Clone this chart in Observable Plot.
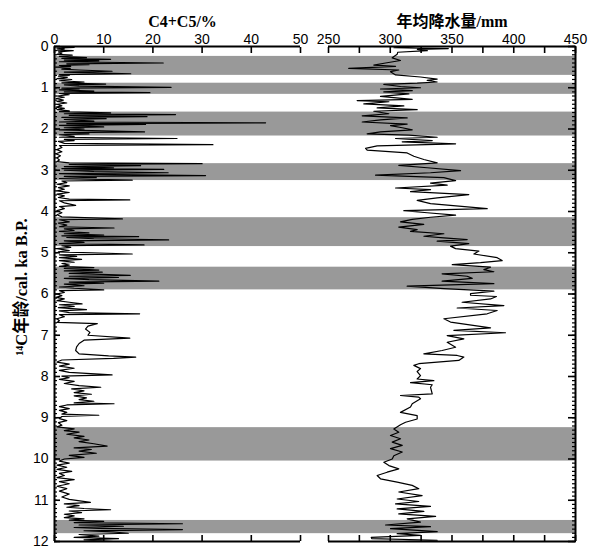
<!DOCTYPE html>
<html><head><meta charset="utf-8">
<script src="https://cdn.jsdelivr.net/npm/d3@7"></script>
<script src="https://cdn.jsdelivr.net/npm/@observablehq/plot@0.6"></script>
<style>
body{margin:0;background:#fff;}
#chart{position:relative;width:597px;height:548px;}
#chart svg{position:absolute;left:0;top:0;}
</style></head><body><div id="chart"></div>
<script>
// Gray intervals (ka)
const bandStart = [0.24, 0.89, 1.59, 2.84, 4.15, 5.35, 9.24, 11.49];
const bandEnd   = [0.70, 1.16, 2.17, 3.25, 4.85, 5.90, 10.05, 11.81];

// C4+C5 (%) vs age (ka)
const c45Age = [0.00,0.02,0.04,0.06,0.09,0.10,0.13,0.16,0.19,0.21,0.24,0.27,0.29,0.31,0.33,0.35,0.37,0.40,0.42,0.44,0.46,0.48,0.50,0.53,0.55,0.57,0.60,0.62,0.64,0.66,0.68,0.70,0.72,0.75,0.78,0.80,0.83,0.86,0.88,0.91,0.93,0.96,0.99,1.01,1.03,1.05,1.08,1.10,1.12,1.14,1.17,1.20,1.23,1.26,1.30,1.33,1.37,1.40,1.44,1.47,1.50,1.53,1.56,1.58,1.61,1.63,1.65,1.67,1.70,1.72,1.75,1.77,1.81,1.83,1.85,1.87,1.89,1.91,1.95,1.97,2.00,2.02,2.07,2.09,2.12,2.14,2.18,2.20,2.23,2.25,2.28,2.30,2.35,2.38,2.40,2.45,2.50,2.55,2.60,2.65,2.70,2.75,2.79,2.82,2.84,2.86,2.89,2.91,2.94,2.96,2.98,3.00,3.03,3.06,3.08,3.10,3.13,3.15,3.18,3.20,3.24,3.26,3.30,3.34,3.38,3.42,3.46,3.50,3.54,3.58,3.62,3.66,3.70,3.72,3.74,3.79,3.85,3.88,3.93,3.98,4.03,4.08,4.13,4.18,4.20,4.25,4.28,4.33,4.37,4.40,4.42,4.46,4.48,4.52,4.54,4.57,4.59,4.61,4.63,4.66,4.69,4.71,4.75,4.78,4.81,4.83,4.87,4.90,4.95,4.98,5.03,5.05,5.09,5.12,5.16,5.19,5.23,5.26,5.30,5.33,5.36,5.38,5.42,5.44,5.47,5.50,5.52,5.55,5.57,5.60,5.62,5.65,5.69,5.71,5.74,5.76,5.80,5.83,5.86,5.90,5.92,5.96,6.00,6.04,6.08,6.12,6.16,6.20,6.24,6.26,6.30,6.33,6.38,6.41,6.45,6.48,6.50,6.55,6.60,6.65,6.69,6.72,6.78,6.85,6.93,7.00,7.07,7.12,7.20,7.28,7.37,7.45,7.50,7.53,7.56,7.60,7.65,7.70,7.75,7.80,7.85,7.90,7.96,7.99,8.03,8.07,8.12,8.17,8.22,8.26,8.30,8.35,8.39,8.43,8.47,8.52,8.56,8.60,8.64,8.66,8.69,8.73,8.78,8.82,8.87,8.91,8.94,8.97,9.02,9.07,9.12,9.18,9.22,9.27,9.31,9.35,9.40,9.45,9.49,9.54,9.58,9.63,9.69,9.73,9.77,9.81,9.86,9.91,9.96,10.00,10.05,10.10,10.15,10.20,10.25,10.30,10.35,10.40,10.45,10.50,10.55,10.60,10.66,10.72,10.78,10.85,10.92,10.98,11.05,11.09,11.13,11.17,11.20,11.23,11.26,11.30,11.34,11.38,11.42,11.45,11.48,11.51,11.54,11.57,11.60,11.63,11.66,11.68,11.71,11.74,11.77,11.80,11.83,11.87,11.90,11.93,11.96,12.00];
const c45Val = [1.0,4.0,0.5,2.0,0.5,3.8,0.8,1.5,0.5,3.6,1.0,6.5,1.5,11.4,2.0,9.0,1.0,22.1,2.5,7.0,1.0,3.3,0.5,3.2,1.5,5.0,11.7,2.0,8.0,15.5,1.0,3.0,0.8,2.6,0.5,3.5,1.0,6.0,1.5,10.4,2.0,5.0,23.7,1.5,5.0,1.0,8.0,2.0,19.4,1.0,3.0,0.5,2.0,0.3,1.8,0.5,2.5,0.5,1.5,0.3,2.0,0.5,3.0,1.0,11.4,2.0,24.6,3.0,18.8,1.5,10.5,2.0,8.0,1.0,42.9,2.5,18.5,1.0,10.0,2.0,6.0,1.0,18.3,2.0,7.0,1.0,4.0,1.0,24.9,2.0,4.0,0.8,2.0,32.2,1.0,1.5,0.5,1.5,0.3,1.2,0.5,1.0,0.5,3.0,30.0,3.0,17.5,2.0,12.0,1.5,22.2,2.0,8.0,23.1,1.0,7.0,30.7,2.0,8.5,1.0,15.8,1.5,2.5,0.5,3.0,0.8,2.0,0.5,3.0,0.5,2.0,0.8,3.0,15.3,1.0,2.0,4.3,1.0,2.0,0.5,1.5,0.5,1.5,13.8,1.0,3.0,0.8,2.5,1.0,12.1,2.0,4.0,1.0,7.0,2.0,10.0,1.5,17.1,2.5,8.0,23.2,2.0,6.0,1.0,18.2,1.5,3.3,0.5,3.0,0.8,15.8,1.0,4.5,1.0,5.5,1.0,4.0,1.5,3.0,1.0,8.0,2.0,9.0,2.0,9.7,3.0,8.0,15.4,3.0,13.0,2.0,7.0,21.2,3.0,10.0,2.0,6.0,1.0,4.0,10.0,1.0,2.0,0.5,1.5,0.3,2.0,0.5,3.0,5.6,1.0,4.0,0.8,6.5,1.0,3.0,17.3,1.0,2.0,0.5,1.0,0.5,8.7,6.8,6.3,7.2,6.8,15.3,6.0,5.0,4.5,4.3,5.0,11.0,16.5,12.0,1.5,0.5,3.0,1.0,4.0,1.0,3.0,11.7,1.5,3.0,1.0,4.0,2.0,5.0,9.4,3.5,6.0,4.0,7.5,4.0,6.5,5.0,8.0,4.0,12.1,2.5,1.0,3.0,1.0,2.5,1.5,9.0,1.5,1.0,2.5,0.8,1.5,0.5,4.0,2.0,5.0,2.5,6.0,4.0,7.0,5.0,8.0,10.7,4.0,7.5,5.0,8.5,3.0,6.0,2.0,1.0,3.0,0.5,2.5,0.5,3.5,1.0,2.0,0.5,4.0,1.0,3.0,0.5,2.5,1.0,3.0,1.5,3.0,7.3,2.0,5.0,2.5,6.0,11.4,3.0,5.5,2.0,4.0,2.0,6.0,3.0,10.0,4.0,26.0,5.0,14.0,4.0,9.0,26.0,6.0,12.0,15.0,5.0,9.0,4.0,13.0,6.0,12.0];

// Annual precipitation (mm) vs age (ka)
const precAge = [0.00,0.03,0.05,0.07,0.10,0.14,0.19,0.275,0.34,0.40,0.45,0.48,0.53,0.57,0.61,0.69,0.74,0.79,0.82,0.86,0.89,0.92,0.97,1.00,1.03,1.07,1.10,1.15,1.21,1.28,1.31,1.34,1.39,1.44,1.49,1.53,1.57,1.63,1.68,1.73,1.78,1.83,1.88,1.92,1.97,2.02,2.07,2.12,2.15,2.20,2.23,2.28,2.31,2.36,2.41,2.47,2.51,2.58,2.66,2.74,2.82,2.88,2.94,3.01,3.06,3.12,3.18,3.25,3.31,3.36,3.43,3.47,3.52,3.59,3.67,3.73,3.81,3.93,3.98,4.03,4.09,4.14,4.19,4.25,4.31,4.38,4.44,4.48,4.54,4.60,4.64,4.68,4.72,4.78,4.84,4.90,4.96,5.03,5.12,5.19,5.24,5.29,5.35,5.41,5.46,5.51,5.57,5.62,5.69,5.75,5.81,5.87,5.93,5.99,6.03,6.06,6.12,6.20,6.28,6.34,6.40,6.48,6.60,6.68,6.82,6.88,6.94,7.01,7.09,7.17,7.29,7.37,7.45,7.49,7.53,7.61,7.69,7.73,7.81,7.88,7.98,8.06,8.10,8.15,8.20,8.26,8.42,8.46,8.50,8.54,8.66,8.74,8.87,8.95,9.03,9.11,9.17,9.27,9.35,9.43,9.51,9.59,9.67,9.75,9.83,9.92,10.00,10.08,10.16,10.24,10.32,10.40,10.48,10.56,10.64,10.72,10.80,10.89,10.97,11.03,11.09,11.15,11.21,11.27,11.33,11.39,11.45,11.53,11.60,11.64,11.69,11.76,11.81,11.85,11.90,11.93,11.97,12.00];
const precVal = [322,303,347,322,330,306,305.6,301.6,308.3,296.2,286.7,304.3,266.4,306.9,300.2,304.3,324.5,338,329.9,338,321.8,294.8,308.3,324.5,292.1,317.8,294.8,315.1,292.1,317.8,273.2,298.9,278.6,311,289.4,321.8,286.7,298.9,277.3,313.7,292.1,277.3,313.7,300.2,309.7,317.8,292.1,281.3,315.1,338,304.3,334,309.7,352.9,289.4,280,281.3,313.7,319.1,327.2,338,306.9,329.9,356.9,332.6,288.1,343.4,352.9,332.6,346.1,304.3,332.6,316.4,363.6,338,321.8,332.6,378.5,311,329.9,352.9,332.6,317.8,308.3,327.2,306.9,321.8,316.4,343.4,327.2,343.4,362.3,338,363.6,348.8,352.9,371.8,367.7,386.6,390.6,373.1,350.2,381.2,375.8,383.9,342,362.3,366.4,342,383.9,313.7,343.4,383.9,365,365,386,381.2,358.2,392,354.2,386.6,378.5,343.4,348.8,381.2,351.5,393.3,346.1,359.6,346.1,352.9,342,327.2,354.2,359.6,355.5,323.1,319.1,324.5,321.8,324.5,321.8,335.3,316.4,334,332.6,334,308.3,323.1,324.5,317.8,316.4,308.3,321.8,321.8,312.4,308.3,302.9,306.9,300.2,308.3,301.6,309.7,300.2,309.7,302.9,301.6,294.8,298.9,306.9,297.5,289.4,292.1,305.6,317.8,323.1,306.9,325.8,305.6,323.1,304.3,332.6,305.6,327.2,306.9,336.7,313.7,324.5,296.2,332.6,300.2,338,305.6,324.5,284.6,285,338,310];

// Axis ticks
const ageTicks = [0,1,2,3,4,5,6,7,8,9,10,11,12];
const c45Ticks = [0,10,20,30,40,50];
const precLabelTicks = [250,300,350,400,450];
const precTicks = [250,275,300,325,350,375,400,425,450];
const ageMinor = d3.range(0, 12.0001, 0.1);

const c45 = c45Age.map((a,i)=>({age:a, v:c45Val[i]}));
const prec = precAge.map((a,i)=>({age:a, v:precVal[i]}));
const bands = bandStart.map((s,i)=>({s, e:bandEnd[i]}));

const W = 597, H = 548, MT = 46, MB = 7;
const tickFont = "'Liberation Sans', Arial, sans-serif";
const titleFont = "'Liberation Serif', 'Times New Roman', 'Noto Sans CJK SC', serif";
const yScale = {domain:[0,12], reverse:true};
const baseStyle = {background:"transparent", fontFamily:tickFont, fontSize:"14px", color:"#000"};

// Layer 1: gray bands across both panels
const bg = Plot.plot({
  width:W, height:H, marginTop:MT, marginBottom:MB, marginLeft:54, marginRight:22,
  y: yScale, x:{axis:null},
  style:{...baseStyle, background:"#fff"},
  marks:[
    Plot.axisY({ticks:[], tickSize:0, label:null}),
    Plot.rect(bands, {y1:"s", y2:"e", fill:"#999"})
  ]
});

// Layer 2: left panel C4+C5
const left = Plot.plot({
  width:W, height:H, marginTop:MT, marginBottom:MB, marginLeft:54, marginRight:297,
  x:{domain:[0,50]}, y: yScale,
  style: baseStyle,
  marks:[
    Plot.line(c45, {x:"v", y:"age", stroke:"#000", strokeWidth:1.2}),
    Plot.axisX({anchor:"top", ticks:c45Ticks, tickSize:0, tickPadding:3, label:null, fontSize:14}),
    Plot.axisX({anchor:"top", ticks:c45Ticks, tickSize:-6, text:null, label:null, strokeWidth:1.6}),
    Plot.axisX({anchor:"bottom", ticks:c45Ticks, tickSize:-6, text:null, label:null, strokeWidth:1.6}),
    Plot.axisY({anchor:"left", ticks:ageTicks, tickSize:0, tickPadding:6, label:null, fontSize:14}),
    Plot.axisY({anchor:"left", ticks:ageTicks, tickSize:-6, text:null, label:null, strokeWidth:1.6}),
    Plot.axisY({anchor:"left", ticks:ageMinor, tickSize:-3, text:null, label:null, strokeWidth:1.2}),
    Plot.ruleX([0], {stroke:"#000", strokeWidth:2}),
    Plot.ruleY([0, 12], {stroke:"#000", strokeWidth:2}),
    Plot.text(["C4+C5/%"], {text:d=>d, frameAnchor:"top", dy:-31, dx:5, fontSize:16, fontWeight:"bold", fontFamily:titleFont}),
    Plot.text(["¹⁴C年龄/cal. ka B.P."], {text:d=>d, frameAnchor:"left", textAnchor:"middle", rotate:-90, dx:-33, dy:-7, fontSize:16.5, fontWeight:"bold", fontFamily:titleFont})
  ]
});

// Layer 3: right panel precipitation
const right = Plot.plot({
  width:W, height:H, marginTop:MT, marginBottom:MB, marginLeft:328, marginRight:22,
  x:{domain:[250,450]}, y: yScale,
  style: baseStyle,
  marks:[
    Plot.line(prec, {x:"v", y:"age", stroke:"#000", strokeWidth:1.2}),
    Plot.axisX({anchor:"top", ticks:precLabelTicks, tickSize:0, tickPadding:3, label:null, fontSize:14}),
    Plot.axisX({anchor:"top", ticks:precTicks, tickSize:-6, text:null, label:null, strokeWidth:1.6}),
    Plot.axisX({anchor:"bottom", ticks:precTicks, tickSize:-6, text:null, label:null, strokeWidth:1.6}),
    Plot.axisY({anchor:"right", ticks:ageTicks, tickSize:-8, text:null, label:null, strokeWidth:1.6}),
    Plot.axisY({anchor:"right", ticks:ageMinor, tickSize:-4, text:null, label:null, strokeWidth:1.2}),
    Plot.ruleX([450], {stroke:"#000", strokeWidth:2}),
    Plot.ruleY([0, 12], {stroke:"#000", strokeWidth:2}),
    Plot.text(["年均降水量/mm"], {text:d=>d, frameAnchor:"top", dy:-31, fontSize:16, fontWeight:"bold", fontFamily:titleFont})
  ]
});

const chart = document.getElementById("chart");
chart.append(bg, left, right);
</script></body></html>
